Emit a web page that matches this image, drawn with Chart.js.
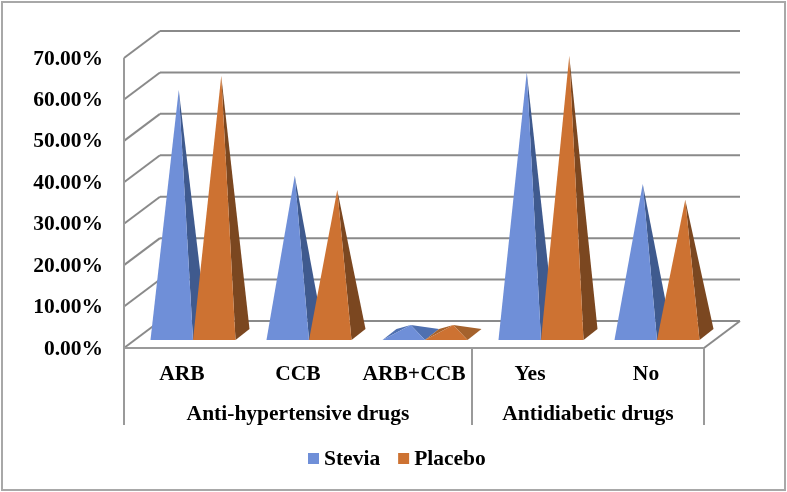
<!DOCTYPE html>
<html lang="en">
<head>
    <meta charset="UTF-8">
    <title>Stevia vs Placebo</title>
    <script src="https://cdn.jsdelivr.net/npm/chart.js"></script>
    <style>
        body { margin: 0; background: #fff; }
        canvas { display: block; }
    </style>
</head>
<body>
    <canvas id="drugChart" width="787" height="492"></canvas>

    <script>
        const categories = ['ARB', 'CCB', 'ARB+CCB', 'Yes', 'No'];
        const stevia = [59.0, 38.3, 2.3, 63.3, 36.3];
        const placebo = [62.4, 34.9, 2.3, 67.2, 32.5];
        const yTicks = [0, 10, 20, 30, 40, 50, 60, 70];
        // group label, first and last category of the group
        const groupNames = ['Anti-hypertensive drugs', 'Antidiabetic drugs'];
        const groupStart = [0, 3];
        const groupEnd = [2, 4];

        const FONT = '"Liberation Serif", "Times New Roman", serif';
        const FRONT = ['#6f8fd8', '#cd7232'];
        const SIDE = ['#3f5a8e', '#7b4720'];
        const SIDE_LOW = ['#4f70b0', '#a5622c'];
        const GRID = '#8a8a8a';

        // fake 3D: how far the back wall and the pyramid bases sit behind the front plane
        const WALL_DX = 36, WALL_DY = -27;
        const BASE_DX = 11, BASE_DY = -8;
        const DEPTH_DX = 14, DEPTH_DY = -11;

        function line(ctx, x1, y1, x2, y2) {
            ctx.beginPath();
            ctx.moveTo(x1, y1);
            ctx.lineTo(x2, y2);
            ctx.stroke();
        }

        function face(ctx, color, pts) {
            ctx.fillStyle = color;
            ctx.beginPath();
            pts.forEach((p, i) => i ? ctx.lineTo(p[0], p[1]) : ctx.moveTo(p[0], p[1]));
            ctx.closePath();
            ctx.fill();
        }

        const walls = {
            id: 'walls',
            beforeDraw(chart) {
                const { ctx, chartArea: a, scales: { x, y } } = chart;
                ctx.save();
                ctx.fillStyle = '#fff';
                ctx.fillRect(0, 0, chart.width, chart.height);
                ctx.strokeStyle = '#a8a8a8';
                ctx.lineWidth = 2;
                ctx.strokeRect(2, 2, 783, 488);

                ctx.strokeStyle = GRID;
                yTicks.forEach(t => {
                    const py = y.getPixelForValue(t);
                    line(ctx, a.left, py, a.left + WALL_DX, py + WALL_DY);
                    line(ctx, a.left + WALL_DX, py + WALL_DY, a.right + WALL_DX, py + WALL_DY);
                });
                line(ctx, a.right, a.bottom, a.right + WALL_DX, a.bottom + WALL_DY);

                // axis lines and the separators of the two label levels
                ctx.strokeStyle = '#9a9a9a';
                line(ctx, a.left, a.top, a.left, a.bottom);
                line(ctx, a.left, a.bottom, a.right, a.bottom);
                const band = (a.right - a.left) / categories.length;
                groupStart.forEach(i => line(ctx, a.left + band * i, a.bottom, a.left + band * i, 425));
                line(ctx, a.right, a.bottom, a.right, 425);
                ctx.restore();
            }
        };

        // the bars stay invisible, each pyramid is built on its bar element
        const pyramids = {
            id: 'pyramids',
            afterDatasetsDraw(chart) {
                const { ctx, scales: { y } } = chart;
                for (let i = 0; i < categories.length; i++) {
                    chart.data.datasets.forEach((ds, d) => {
                        const el = chart.getDatasetMeta(d).data[i];
                        const low = ds.data[i] < 5;
                        const side = low ? SIDE_LOW[d] : SIDE[d];
                        const x0 = el.x - el.width / 2 + BASE_DX;
                        const x1 = el.x + el.width / 2 + BASE_DX;
                        const by = y.getPixelForValue(0) + BASE_DY;
                        const apex = [
                            (x0 + x1) / 2 + DEPTH_DX / 2,
                            el.y + BASE_DY + DEPTH_DY / 2
                        ];
                        if (low) {
                            face(ctx, side, [[x0, by], [x0 + DEPTH_DX, by + DEPTH_DY], apex]);
                        }
                        face(ctx, side, [[x1, by], [x1 + DEPTH_DX, by + DEPTH_DY], apex]);
                        face(ctx, FRONT[d], [[x0, by], [x1, by], apex]);
                    });
                }
            }
        };

        // second label level and the legend, the built-in legend cannot sit this tight
        const labelsAndLegend = {
            id: 'labelsAndLegend',
            afterDraw(chart) {
                const { ctx, chartArea: a } = chart;
                const band = (a.right - a.left) / categories.length;
                ctx.save();
                ctx.fillStyle = '#000';
                ctx.font = 'bold 21.5px ' + FONT;
                ctx.textAlign = 'center';
                ctx.textBaseline = 'middle';
                groupNames.forEach((name, g) => {
                    const mid = a.left + band * (groupStart[g] + groupEnd[g] + 1) / 2;
                    ctx.fillText(name, mid, 414);
                });

                ctx.textAlign = 'left';
                let lx = 308;
                chart.data.datasets.forEach((ds, d) => {
                    ctx.fillStyle = FRONT[d];
                    ctx.fillRect(lx, 453, 11, 11);
                    ctx.fillStyle = '#000';
                    ctx.fillText(ds.label, lx + 16, 459);
                    lx += 16 + ctx.measureText(ds.label).width + 18;
                });
                ctx.restore();
            }
        };

        new Chart(document.getElementById('drugChart'), {
            type: 'bar',
            data: {
                labels: categories,
                datasets: [
                    { label: 'Stevia', data: stevia, backgroundColor: 'transparent' },
                    { label: 'Placebo', data: placebo, backgroundColor: 'transparent' }
                ]
            },
            options: {
                responsive: false,
                animation: false,
                elements: { bar: { borderWidth: 0 } },
                datasets: { bar: { categoryPercentage: 0.733, barPercentage: 1 } },
                layout: { padding: { left: 0, right: 83, top: 58, bottom: 0 } },
                plugins: {
                    tooltip: { enabled: false },
                    legend: { display: false }
                },
                scales: {
                    x: {
                        grid: { display: false, drawTicks: false },
                        border: { display: false },
                        afterFit: s => { s.height = 144; },
                        ticks: {
                            color: '#000',
                            padding: 14,
                            maxRotation: 0,
                            autoSkip: false,
                            font: { family: FONT, size: 21.5, weight: 'bold' }
                        }
                    },
                    y: {
                        min: 0,
                        max: 70,
                        afterFit: s => { s.width = 124; },
                        afterBuildTicks: s => { s.ticks = yTicks.map(v => ({ value: v })); },
                        grid: { display: false, drawTicks: false },
                        border: { display: false },
                        ticks: {
                            color: '#000',
                            padding: 21,
                            labelOffset: 1,
                            callback: v => v.toFixed(2) + '%',
                            font: { family: FONT, size: 21.5, weight: 'bold' }
                        }
                    }
                }
            },
            plugins: [walls, pyramids, labelsAndLegend]
        });
    </script>
</body>
</html>
